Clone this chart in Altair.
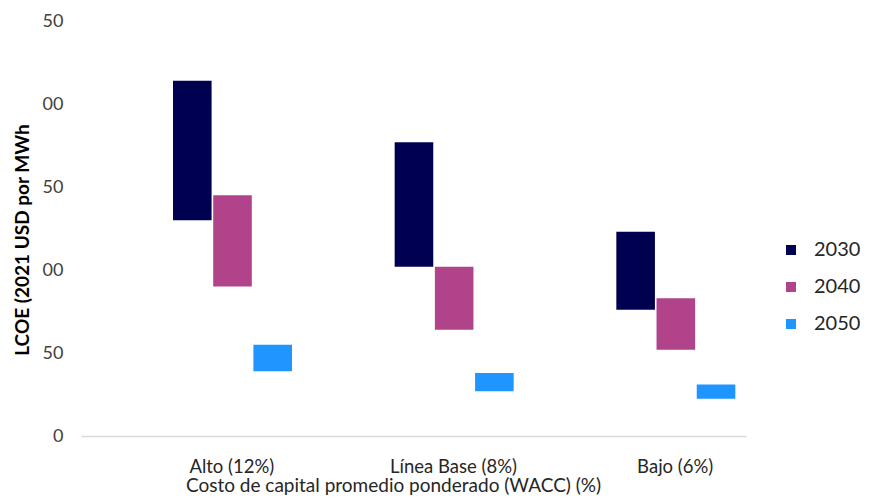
import altair as alt
import pandas as pd

categories = ["Alto (12%)", "Línea Base (8%)", "Bajo (6%)"]
years = ["2030", "2040", "2050"]
colors = ["#000050", "#b0438a", "#1f96ff"]
# low / high LCOE per category, per year
low_2030 = [130, 102, 76]
high_2030 = [214, 177, 123]
low_2040 = [90, 64, 52]
high_2040 = [145, 102, 83]
low_2050 = [39, 27, 22.5]
high_2050 = [55, 38, 31]

rows = []
for yr, lo, hi in [("2030", low_2030, high_2030), ("2040", low_2040, high_2040), ("2050", low_2050, high_2050)]:
    for c, l, h in zip(categories, lo, hi):
        rows.append({"cat": c, "year": yr, "low": l, "high": h})
df = pd.DataFrame(rows)

font = "Lato"

chart = alt.Chart(df).mark_bar().encode(
    x=alt.X("cat:N", sort=categories,
            scale=alt.Scale(paddingInner=0, paddingOuter=0),
            axis=alt.Axis(title="Costo de capital promedio ponderado (WACC) (%)",
                          labelAngle=0, labelOffset=40, ticks=False,
                          domainColor="#d9d9d9", domainWidth=1.5,
                          labelFont=font, labelFontSize=18.5, labelColor="#262626",
                          labelPadding=21, labelLineHeight=18.5,
                          titleFont=font, titleFontSize=19, titleFontWeight="normal",
                          titleColor="#262626", titlePadding=1, titleX=312)),
    xOffset=alt.XOffset("year:N", sort=years,
                        scale=alt.Scale(range=[92, 211], paddingInner=0.04)),
    y=alt.Y("low:Q", scale=alt.Scale(domain=[0, 250]),
            axis=alt.Axis(title="LCOE (2021 USD por MWh", values=[0, 50, 100, 150, 200, 250],
                          labelExpr="substring(toString(datum.value), length(toString(datum.value))-2)",
                          grid=False, domain=False, ticks=False,
                          labelFont=font, labelFontSize=18, labelColor="#404040",
                          labelPadding=18,
                          titleFont=font, titleFontSize=19, titleFontWeight="bold",
                          titleColor="#000000", titlePadding=10, titleY=218.5)),
    y2="high:Q",
    color=alt.Color("year:N", sort=years,
                    scale=alt.Scale(domain=years, range=colors),
                    legend=alt.Legend(title=None, orient="none", legendX=700, legendY=219,
                                      symbolType="square", symbolSize=100, symbolStrokeWidth=0,
                                      labelFont=font, labelFontSize=20, labelColor="#262626",
                                      labelOffset=13, rowPadding=17, padding=0)),
).properties(
    width=665, height=415,
    padding={"left": 73, "top": 13, "right": 118, "bottom": 60},
    autosize=alt.AutoSizeParams(type="none"),
).configure_view(stroke=None)

chart.save("out.html", embed_options={"renderer": "svg", "actions": False})
